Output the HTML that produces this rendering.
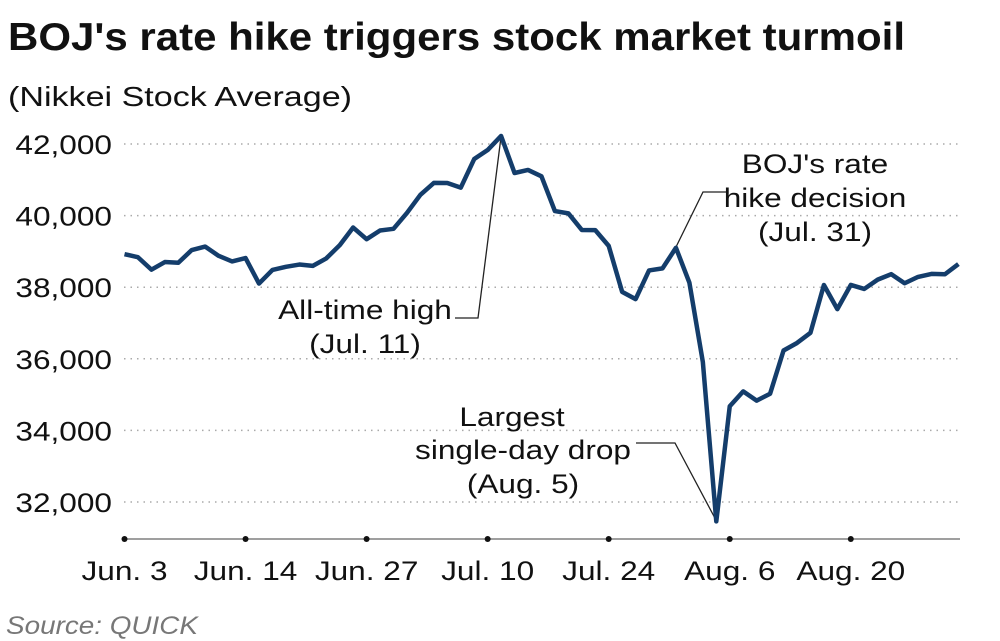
<!DOCTYPE html>
<html><head><meta charset="utf-8"><style>
body{margin:0;background:#fff;}
svg{display:block;font-family:"Liberation Sans",Arial,sans-serif;}
</style></head><body>
<svg id="c" width="1000" height="641" viewBox="0 0 1000 641">
<text x="8" y="50" font-size="39" font-weight="bold" fill="#111" textLength="897" lengthAdjust="spacingAndGlyphs">BOJ's rate hike triggers stock market turmoil</text>
<text x="8" y="106" font-size="28" fill="#111" textLength="344" lengthAdjust="spacingAndGlyphs">(Nikkei Stock Average)</text>
<g id="grid"></g><g id="xaxis"></g>
<g id="ann" fill="#111" font-size="27" text-anchor="middle">
<path d="M455,318 H478 L501,137" fill="none" stroke="#222" stroke-width="1.3"/>
<text class="sc" x="365" y="319">All-time high</text>
<text class="sc" x="365" y="353">(Jul. 11)</text>
<path d="M728,192 H703 L676,247" fill="none" stroke="#222" stroke-width="1.3"/>
<text class="sc" x="815" y="173">BOJ's rate</text>
<text class="sc" x="815" y="207">hike decision</text>
<text class="sc" x="815" y="241">(Jul. 31)</text>
<path d="M636,443 H675 L717,522" fill="none" stroke="#222" stroke-width="1.3"/>
<text class="sc" x="512" y="426">Largest</text>
<text class="sc" x="523" y="459">single-day drop</text>
<text class="sc" x="523" y="493">(Aug. 5)</text>
</g>
<g id="series"></g>
<text x="6" y="634" font-size="25" font-style="italic" fill="#777" textLength="192" lengthAdjust="spacingAndGlyphs">Source: QUICK</text>
</svg>
<script>
const values=[38923,38837,38490,38703,38683,39038,39134,38876,38720,38814,38102,38482,38570,38633,38596,38804,39173,39667,39341,39583,39631,40074,40580,40913,40912,40780,41580,41831,42224,41190,41275,41097,40126,40063,39599,39594,39154,37869,37667,38468,38525,39101,38126,35909,31458,34675,35089,34831,35025,36232,36442,36726,38062,37388,38063,37951,38211,38364,38110,38288,38371,38362,38647];
const yTicks=[32000,34000,36000,38000,40000,42000];
const xTickIdx=[0,9,18,27,36,45,54];
const xTickLabels=["Jun. 3","Jun. 14","Jun. 27","Jul. 10","Jul. 24","Aug. 6","Aug. 20"];
const NS="http://www.w3.org/2000/svg";
const x0=124.5,dx=13.45,SX=1.17;
function xs(i){return x0+i*dx;}
function ys(v){return 502-(v-32000)*(358/10000);}
function mk(t,a,p){const e=document.createElementNS(NS,t);for(const k in a)e.setAttribute(k,a[k]);p.appendChild(e);return e;}
const grid=document.getElementById('grid');
yTicks.forEach(v=>{
  const l=mk('line',{x1:124,x2:960,y1:ys(v),y2:ys(v),stroke:'#aaa','stroke-width':1.5,'stroke-dasharray':'1.5 5'},grid);
  
  
  const t=mk('text',{class:'sc',x:112,y:ys(v)+10,'font-size':27,'text-anchor':'end',fill:'#111'},grid);
  t.textContent=v.toLocaleString('en-US');
  
  
});
const xa=document.getElementById('xaxis');
const ax=mk('line',{x1:124,x2:960,y1:539,y2:539,stroke:'#666','stroke-width':1.3},xa);


xTickIdx.forEach((i,k)=>{
  const d=mk('circle',{cx:xs(i),cy:539,r:3,fill:'#111'},xa);
  
  
  const t=mk('text',{class:'sc',x:xs(i),y:580,'font-size':27,'text-anchor':'middle',fill:'#111'},xa);
  t.textContent=xTickLabels[k];
  
  
});
const p=mk('polyline',{points:values.map((v,i)=>xs(i)+','+ys(v)).join(' '),fill:'none',stroke:'#143d6b','stroke-width':4.5,'stroke-linejoin':'round'},document.getElementById('series'));


document.querySelectorAll('text.sc').forEach(t=>{
  const x=t.getAttribute('x'),y=t.getAttribute('y');
  t.setAttribute('x',0);t.setAttribute('y',0);
  t.setAttribute('transform','translate('+x+','+y+') scale('+SX+',1)');
});
</script>
</body></html>
